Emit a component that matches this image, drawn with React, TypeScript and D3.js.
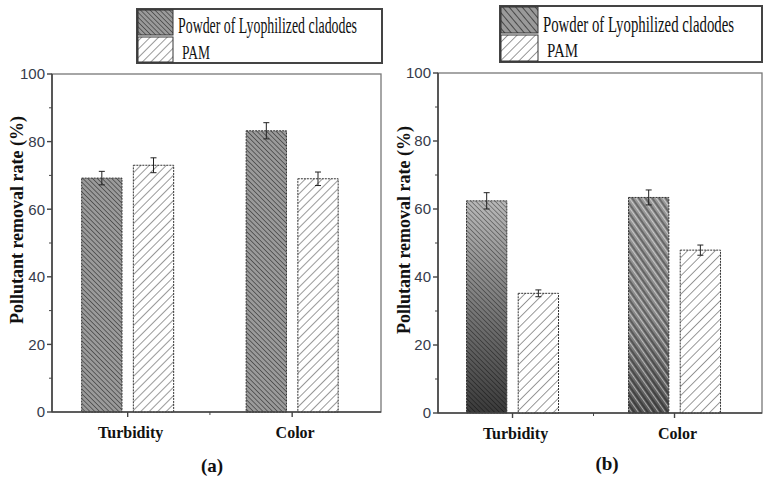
import React from 'react';
import * as d3 from 'd3';

// data
const categories = ['Turbidity', 'Color'];
const seriesNames = ['Powder of Lyophilized cladodes', 'PAM'];
const yTicks = [0, 20, 40, 60, 80, 100];

const powderA = [69.2, 83.2];
const powderAErr = [2.0, 2.4];
const pamA = [73.0, 69.0];
const pamAErr = [2.2, 2.0];

const powderB = [62.4, 63.4];
const powderBErr = [2.4, 2.2];
const pamB = [35.2, 47.9];
const pamBErr = [1.0, 1.5];

const serif = "'Liberation Serif', 'Times New Roman', serif";
const narrow = "'Liberation Sans Narrow', 'Arial Narrow', 'Liberation Sans', sans-serif";

const Panel = ({ id, box, legend, powder, powderErr, pam, pamErr, label, yLabel, fills }) => {
  const { left, right, top, bottom } = box;
  const y = d3.scaleLinear().domain([0, 100]).range([bottom, top]);
  // category centres sit a bit left of the quarter points in the original
  const x = d3.scaleLinear().domain([-0.46, 1.54]).range([left, right]);
  const sub = d3.scaleBand().domain(seriesNames).range([-46, 46]).paddingInner(0.22);
  const minor = d3.range(10, 100, 20);
  const rows = [
    { name: seriesNames[0], vals: powder, errs: powderErr },
    { name: seriesNames[1], vals: pam, errs: pamErr },
  ];
  const axisCol = '#444';
  const rh = legend.h / 2;

  return (
    <g>
      {/* frame */}
      <rect x={left} y={top} width={right - left} height={bottom - top} fill="none" stroke="#777" strokeWidth={1.3} />
      {/* bars */}
      {rows.map((r, si) =>
        categories.map((c, ci) => {
          const bx = x(ci) + sub(r.name);
          const bw = sub.bandwidth();
          const by = y(r.vals[ci]);
          const bh = bottom - by;
          const f = fills[si][ci];
          return (
            <g key={`${si}-${ci}`}>
              {f.base && <rect x={bx} y={by} width={bw} height={bh} fill={f.base} />}
              <rect x={bx} y={by} width={bw} height={bh} fill={f.pat} stroke="#333" strokeWidth={1} strokeDasharray="2,1" />
            </g>
          );
        })
      )}
      {/* error bars */}
      {rows.map((r, si) =>
        categories.map((c, ci) => {
          const cx = x(ci) + sub(r.name) + sub.bandwidth() / 2;
          const y1 = y(r.vals[ci] + r.errs[ci]);
          const y2 = y(r.vals[ci] - r.errs[ci]);
          return (
            <g key={`e${si}-${ci}`} stroke="#222" strokeWidth={1}>
              <line x1={cx} x2={cx} y1={y1} y2={y2} />
              <line x1={cx - 3} x2={cx + 3} y1={y1} y2={y1} />
              <line x1={cx - 3} x2={cx + 3} y1={y2} y2={y2} />
            </g>
          );
        })
      )}
      {/* y axis */}
      <line x1={left} x2={left} y1={top} y2={bottom} stroke={axisCol} strokeWidth={1.6} />
      {yTicks.map((t) => (
        <g key={t}>
          <line x1={left - 5} x2={left} y1={y(t)} y2={y(t)} stroke={axisCol} strokeWidth={1.4} />
          <text x={left - 7} y={y(t)} dy="0.36em" textAnchor="end" fontFamily={narrow} fontSize={15} fill="#363b4a">
            {t}
          </text>
        </g>
      ))}
      {minor.map((t) => (
        <line key={t} x1={left - 3} x2={left} y1={y(t)} y2={y(t)} stroke={axisCol} strokeWidth={1} />
      ))}
      {/* x axis */}
      <line x1={left} x2={right} y1={bottom} y2={bottom} stroke={axisCol} strokeWidth={1.6} />
      {categories.map((c, ci) => (
        <g key={c}>
          <line x1={x(ci)} x2={x(ci)} y1={bottom} y2={bottom + 5} stroke={axisCol} strokeWidth={1.4} />
          <text x={x(ci) + 3} y={bottom + 26} textAnchor="middle" fontFamily={serif} fontWeight="bold" fontSize={16} fill="#111">
            {c}
          </text>
        </g>
      ))}
      <line x1={x(0.5)} x2={x(0.5)} y1={bottom} y2={bottom + 3} stroke={axisCol} strokeWidth={1} />
      {/* y label */}
      <text
        transform={`translate(${yLabel.x},${yLabel.cy}) rotate(-90)`}
        textAnchor="middle"
        fontFamily={serif}
        fontWeight="bold"
        fontSize={18}
        fill="#111"
      >
        Pollutant removal rate (%)
      </text>
      {/* panel label */}
      <text x={label.x} y={label.y} textAnchor="middle" fontFamily={serif} fontWeight="bold" fontSize={19} fill="#111">
        {label.text}
      </text>
      {/* legend */}
      <rect x={legend.x} y={legend.y} width={legend.w} height={legend.h} fill="#fff" stroke="#444" strokeWidth={2} />
      {seriesNames.map((s, i) => {
        const ry = legend.y + i * rh;
        return (
          <rect
            key={s}
            x={legend.x + 1}
            y={ry + 1}
            width={legend.sw}
            height={rh - 2}
            fill={i === 0 ? legend.swatch0 : `url(#pam-${id})`}
            stroke="#333"
            strokeWidth={1}
          />
        );
      })}
      {/* the original legend type is tall and condensed */}
      <text
        transform={`translate(${legend.x + legend.sw + 6},${legend.b0}) scale(1,1.4)`}
        fontFamily={serif}
        fontSize={16}
        fill="#111"
        textLength={legend.tl}
        lengthAdjust="spacingAndGlyphs"
      >
        {seriesNames[0]}
      </text>
      <text
        transform={`translate(${legend.x + legend.sw + 10},${legend.b1}) scale(1,1.3)`}
        fontFamily={serif}
        fontSize={14.5}
        fill="#111"
        textLength={legend.tl1}
        lengthAdjust="spacingAndGlyphs"
      >
        {seriesNames[1]}
      </text>
    </g>
  );
};

const App = () => {
  const fillsA = [
    [{ pat: 'url(#dense-a)' }, { pat: 'url(#dense-a)' }],
    [{ pat: 'url(#pam-a)' }, { pat: 'url(#pam-a)' }],
  ];
  const fillsB = [
    [{ base: 'url(#grad-b1)', pat: 'url(#fine-b)' }, { base: 'url(#grad-b2)', pat: 'url(#wide-b)' }],
    [{ pat: 'url(#pam-b)' }, { pat: 'url(#pam-b)' }],
  ];
  return (
    <svg width={773} height={480} style={{ position: 'absolute', left: 0, top: 0, background: '#fff' }}>
      <defs>
        <pattern id="dense-a" width={3.4} height={3.4} patternUnits="userSpaceOnUse" patternTransform="rotate(-45)">
          <rect width={3.4} height={3.4} fill="#9a9a9a" />
          <line x1={0} y1={0} x2={0} y2={3.4} stroke="#4a4a4a" strokeWidth={1.6} />
        </pattern>
        <pattern id="pam-a" width={6} height={6} patternUnits="userSpaceOnUse" patternTransform="rotate(45)">
          <rect width={6} height={6} fill="#fff" />
          <line x1={0} y1={0} x2={0} y2={6} stroke="#777" strokeWidth={1.5} />
        </pattern>
        <pattern id="pam-b" width={6.5} height={6.5} patternUnits="userSpaceOnUse" patternTransform="rotate(45)">
          <rect width={6.5} height={6.5} fill="#fff" />
          <line x1={0} y1={0} x2={0} y2={6.5} stroke="#777" strokeWidth={1.5} />
        </pattern>
        <pattern id="fine-b" width={3.4} height={3.4} patternUnits="userSpaceOnUse" patternTransform="rotate(-45)">
          <line x1={0} y1={0} x2={0} y2={3.4} stroke="#000" strokeOpacity={0.45} strokeWidth={1.5} />
        </pattern>
        <pattern id="wide-b" width={5.5} height={5.5} patternUnits="userSpaceOnUse" patternTransform="rotate(-35)">
          <line x1={0} y1={0} x2={0} y2={5.5} stroke="#fff" strokeOpacity={0.55} strokeWidth={1.6} />
          <line x1={2.7} y1={0} x2={2.7} y2={5.5} stroke="#000" strokeOpacity={0.35} strokeWidth={1.6} />
        </pattern>
        <linearGradient id="grad-b1" x1="0" y1="0" x2="0" y2="1">
          <stop offset="0%" stopColor="#b8b8b8" />
          <stop offset="100%" stopColor="#3a3a3a" />
        </linearGradient>
        <linearGradient id="grad-b2" x1="0" y1="0" x2="0" y2="1">
          <stop offset="0%" stopColor="#9a9a9a" />
          <stop offset="55%" stopColor="#8a8a8a" />
          <stop offset="100%" stopColor="#555" />
        </linearGradient>
        <pattern id="legend-b0" width={5} height={5} patternUnits="userSpaceOnUse" patternTransform="rotate(-40)">
          <rect width={5} height={5} fill="#9a9a9a" />
          <line x1={0} y1={0} x2={0} y2={5} stroke="#333" strokeWidth={1.6} />
        </pattern>
      </defs>
      <Panel
        id="a"
        box={{ left: 52, right: 381, top: 74, bottom: 412 }}
        legend={{ x: 137, y: 9, w: 245, h: 54, sw: 35, tl: 179, tl1: 28, b0: 33, b1: 59, swatch0: 'url(#dense-a)' }}
        powder={powderA}
        powderErr={powderAErr}
        pam={pamA}
        pamErr={pamAErr}
        label={{ text: '(a)', x: 212, y: 472 }}
        yLabel={{ x: 23, cy: 220 }}
        fills={fillsA}
      />
      <Panel
        id="b"
        box={{ left: 438, right: 762, top: 73, bottom: 413 }}
        legend={{ x: 500, y: 6, w: 262, h: 56, sw: 37, tl: 191, tl1: 31, b0: 32, b1: 57, swatch0: 'url(#legend-b0)' }}
        powder={powderB}
        powderErr={powderBErr}
        pam={pamB}
        pamErr={pamBErr}
        label={{ text: '(b)', x: 607, y: 470 }}
        yLabel={{ x: 410, cy: 230 }}
        fills={fillsB}
      />
    </svg>
  );
};

export default App;
